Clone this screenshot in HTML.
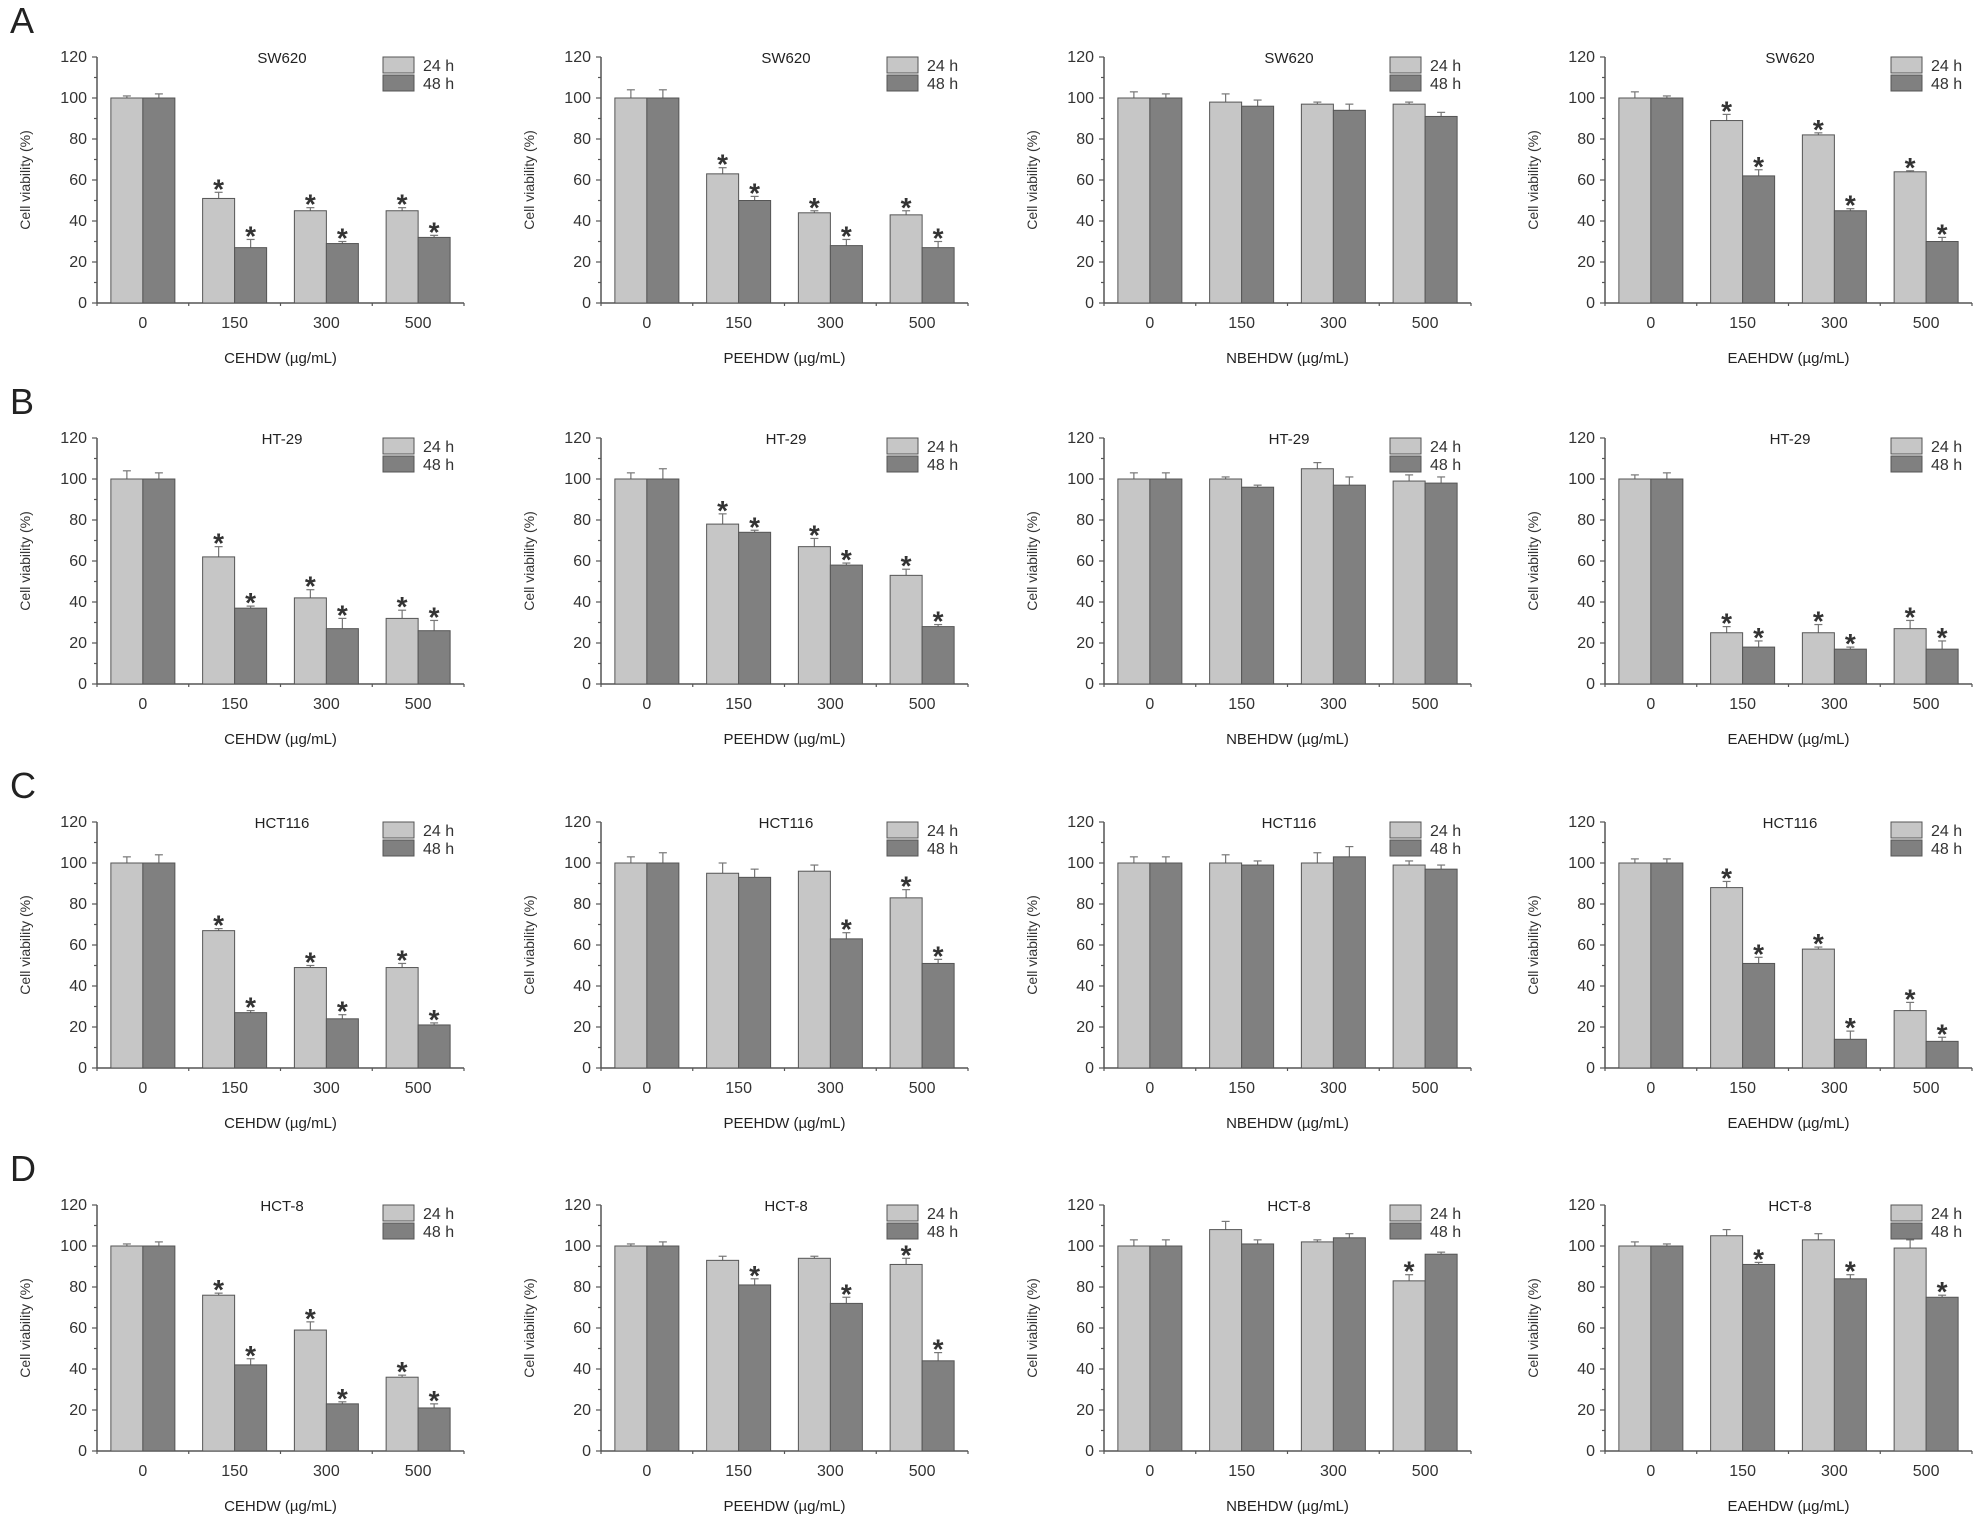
<!DOCTYPE html>
<html><head><meta charset="utf-8">
<style>
html,body{margin:0;padding:0;background:#fff;}
svg{display:block;font-family:"Liberation Sans",Arial,sans-serif;}
</style></head>
<body>
<svg id="fig" width="1987" height="1528" viewBox="0 0 1987 1528"></svg>
<script>
const panelLetters = ["A","B","C","D"];
const cellLines = ["SW620","HT-29","HCT116","HCT-8"];
const extracts = ["CEHDW","PEEHDW","NBEHDW","EAEHDW"];
const doses = ["0","150","300","500"];
const yTicks = [0,20,40,60,80,100,120];
const v24 = [
 [[100,51,45,45],[100,63,44,43],[100,98,97,97],[100,89,82,64]],
 [[100,62,42,32],[100,78,67,53],[100,100,105,99],[100,25,25,27]],
 [[100,67,49,49],[100,95,96,83],[100,100,100,99],[100,88,58,28]],
 [[100,76,59,36],[100,93,94,91],[100,108,102,83],[100,105,103,99]]
];
const v48 = [
 [[100,27,29,32],[100,50,28,27],[100,96,94,91],[100,62,45,30]],
 [[100,37,27,26],[100,74,58,28],[100,96,97,98],[100,18,17,17]],
 [[100,27,24,21],[100,93,63,51],[100,99,103,97],[100,51,14,13]],
 [[100,42,23,21],[100,81,72,44],[100,101,104,96],[100,91,84,75]]
];
const e24 = [
 [[1,3,1.5,1.5],[4,3,1,2],[3,4,1,1],[3,3,1,0.5]],
 [[4,5,4,4],[3,5,4,3],[3,1,3,3],[2,3,4,4]],
 [[3,1,1,2],[3,5,3,4],[3,4,5,2],[2,3,1,4]],
 [[1,1,4,1],[1,2,1,3],[3,4,1,3],[2,3,3,4]]
];
const e48 = [
 [[2,4,1,1],[4,2,3,3],[2,3,3,2],[1,3,1,2]],
 [[3,1,5,5],[5,1,1,1],[3,1,4,3],[3,3,1,4]],
 [[4,1,2,1],[5,4,3,2],[3,2,5,2],[2,3,4,2]],
 [[2,3,1,2],[2,3,3,4],[3,2,2,1],[1,1,2,1]]
];
const s24 = [
 [[0,1,1,1],[0,1,1,1],[0,0,0,0],[0,1,1,1]],
 [[0,1,1,1],[0,1,1,1],[0,0,0,0],[0,1,1,1]],
 [[0,1,1,1],[0,0,0,1],[0,0,0,0],[0,1,1,1]],
 [[0,1,1,1],[0,0,0,1],[0,0,0,1],[0,0,0,0]]
];
const s48 = [
 [[0,1,1,1],[0,1,1,1],[0,0,0,0],[0,1,1,1]],
 [[0,1,1,1],[0,1,1,1],[0,0,0,0],[0,1,1,1]],
 [[0,1,1,1],[0,0,1,1],[0,0,0,0],[0,1,1,1]],
 [[0,1,1,1],[0,1,1,1],[0,0,0,0],[0,1,1,1]]
];

const NS="http://www.w3.org/2000/svg";
const svg=document.getElementById('fig');
const colX=[97,601,1104,1605];
const rowY=[303,684,1068,1451];
const PW=367, PH=246, BW=32;
function mk(tag,attrs,parent){const e=document.createElementNS(NS,tag);for(const k in attrs)e.setAttribute(k,attrs[k]);(parent||svg).appendChild(e);return e;}

for(let r=0;r<4;r++){
  const L=mk('text',{x:10,y:rowY[r]-270,'font-size':36,fill:'#222'});
  
  
  L.textContent=panelLetters[r];
  for(let c=0;c<4;c++){
    const x0=colX[c], y0=rowY[r];
    const g=mk('g',{});
    
    
    const ys=v=>y0-v/120*PH;
    const gw=PW/4;
    const xc=i=>x0+gw*(i+0.5);
    mk('line',{x1:x0,y1:y0,x2:x0,y2:ys(120),stroke:'#555','stroke-width':1.5},g);
    for(let t=0;t<=120;t+=10){
      const major=t%20===0;
      mk('line',{x1:x0-(major?5:3),y1:ys(t),x2:x0,y2:ys(t),stroke:'#555','stroke-width':1.2},g);
    }
    yTicks.forEach(t=>{
      const tx=mk('text',{x:x0-10,y:ys(t)+5,'font-size':16,fill:'#333','text-anchor':'end'},g);
      
      
      tx.textContent=t;
    });
    const yl=mk('text',{x:0,y:0,'font-size':14,fill:'#333','text-anchor':'middle',transform:`translate(${x0-67},${ys(60)}) rotate(-90)`},g);
    
    
    yl.textContent='Cell viability (%)';
    mk('line',{x1:x0,y1:y0,x2:x0+PW,y2:y0,stroke:'#555','stroke-width':1.5},g);
    for(let i=0;i<=4;i++) mk('line',{x1:x0+gw*i,y1:y0,x2:x0+gw*i,y2:y0+3,stroke:'#555','stroke-width':1.2},g);
    for(let i=0;i<4;i++){
      const sets=[[v24,e24,s24,'#c6c6c6',-BW],[v48,e48,s48,'#808080',0]];
      sets.forEach(([V,E,S,col,off],k)=>{
        const val=V[r][c][i], err=E[r][c][i];
        const bx=xc(i)+off;
        const cx=bx+BW/2;
        mk('line',{x1:cx,y1:ys(val),x2:cx,y2:ys(val+err),stroke:'#777','stroke-width':1.2},g);
        mk('line',{x1:cx-4,y1:ys(val+err),x2:cx+4,y2:ys(val+err),stroke:'#777','stroke-width':1.2},g);
        const b=mk('rect',{x:bx,y:ys(val),width:BW,height:ys(0)-ys(val),fill:col,stroke:'#555','stroke-width':1},g);
        
        
        if(S[r][c][i]){
          const st=mk('text',{x:cx,y:ys(val+err)+6,'font-size':28,'font-weight':'bold',fill:'#333','text-anchor':'middle'},g);
          
          
          st.textContent='*';
        }
      });
      const xl=mk('text',{x:xc(i),y:y0+25,'font-size':16,fill:'#333','text-anchor':'middle'},g);
      
      
      xl.textContent=doses[i];
    }
    const xt=mk('text',{x:x0+PW/2,y:y0+60,'font-size':15,fill:'#222','text-anchor':'middle'},g);
    
    
    xt.textContent=extracts[c]+' (\u00b5g/mL)';
    const ti=mk('text',{x:x0+185,y:ys(120)+6,'font-size':15,fill:'#222','text-anchor':'middle'},g);
    
    
    ti.textContent=cellLines[r];
    const lg=mk('g',{},g);
    
    
    const lx=x0+286, ly=ys(120);
    mk('rect',{x:lx,y:ly,width:31,height:16,fill:'#c6c6c6',stroke:'#555','stroke-width':1},lg);
    mk('rect',{x:lx,y:ly+18,width:31,height:16,fill:'#808080',stroke:'#555','stroke-width':1},lg);
    const t1=mk('text',{x:lx+40,y:ly+14,'font-size':16,fill:'#333'},lg);
    
    
    t1.textContent='24 h';
    const t2=mk('text',{x:lx+40,y:ly+32,'font-size':16,fill:'#333'},lg);
    
    
    t2.textContent='48 h';
  }
}
</script>
</body></html>
